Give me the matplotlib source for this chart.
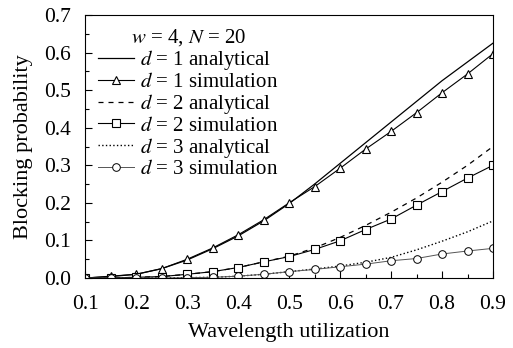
import matplotlib
matplotlib.use("Agg")
import matplotlib.pyplot as plt
import numpy as np
from matplotlib.ticker import MultipleLocator

plt.rcParams['font.family'] = ['Liberation Serif', 'DejaVu Serif']
plt.rcParams['mathtext.fontset'] = 'stix'

u = [0.1, 0.15, 0.2, 0.25, 0.3, 0.35, 0.4, 0.45, 0.5, 0.55, 0.6, 0.65, 0.7, 0.75, 0.8, 0.85, 0.9]

d1_ana = [0.0, 0.004, 0.01, 0.025, 0.048, 0.078, 0.112, 0.152, 0.198, 0.25, 0.305, 0.36, 0.415, 0.47, 0.525, 0.575, 0.625]
d1_sim = [0.0, 0.005, 0.01, 0.025, 0.05, 0.08, 0.115, 0.155, 0.2, 0.243, 0.292, 0.343, 0.39, 0.44, 0.493, 0.543, 0.597]
d2_ana = [0.0, 0.0, 0.002, 0.004, 0.01, 0.017, 0.028, 0.043, 0.058, 0.08, 0.108, 0.14, 0.175, 0.213, 0.255, 0.3, 0.35]
d2_sim = [0.0, 0.0, 0.002, 0.004, 0.01, 0.017, 0.028, 0.043, 0.057, 0.076, 0.099, 0.129, 0.157, 0.194, 0.23, 0.266, 0.3]
d3_ana = [0.0, 0.0, 0.0, 0.0, 0.001, 0.002, 0.005, 0.01, 0.017, 0.024, 0.032, 0.042, 0.055, 0.075, 0.098, 0.123, 0.152]
d3_sim = [0.0, 0.0, 0.0, 0.0, 0.001, 0.002, 0.005, 0.01, 0.017, 0.023, 0.03, 0.037, 0.046, 0.052, 0.064, 0.072, 0.079]

xticks = [0.1, 0.2, 0.3, 0.4, 0.5, 0.6, 0.7, 0.8, 0.9]
yticks = [0.0, 0.1, 0.2, 0.3, 0.4, 0.5, 0.6, 0.7]

fig = plt.figure(figsize=(5.13, 3.48), dpi=100)
ax = fig.add_axes([0.166, 0.201, 0.795, 0.756])

ax.plot(u, d1_ana, '-', color='black', lw=0.9, label=r'$d$ = 1 analytical')
ax.plot(u, d1_sim, '-^', color='black', lw=0.8, ms=6, mfc='white', mew=0.8, label=r'$d$ = 1 simulation')
ax.plot(u, d2_ana, '--', color='black', lw=0.9, dashes=(4, 4), label=r'$d$ = 2 analytical')
ax.plot(u, d2_sim, '-s', color='black', lw=0.8, ms=5.5, mfc='white', mew=0.8, label=r'$d$ = 2 simulation')
ax.plot(u, d3_ana, ':', color='black', lw=1.0, label=r'$d$ = 3 analytical')
ax.plot(u, d3_sim, '-o', color='#555555', lw=0.7, ms=5.5, mfc='white', mec='black', mew=0.7,
        label=r'$d$ = 3 simulation')

ax.set_xlim(0.1, 0.9)
ax.set_ylim(0.0, 0.7)
ax.set_xticks(xticks)
ax.set_xticklabels(['%.1f' % v for v in xticks])
ax.set_yticks(yticks)
ax.set_yticklabels(['%.1f' % v for v in yticks])
ax.xaxis.set_minor_locator(MultipleLocator(0.05))
ax.yaxis.set_minor_locator(MultipleLocator(0.05))
ax.tick_params(which='both', direction='in', labelsize=15.5, width=0.8)
ax.tick_params(which='major', length=5)
ax.tick_params(which='minor', length=3)
ax.tick_params(axis='x', which='major', pad=12)
ax.tick_params(axis='y', which='major', pad=10)
for s in ax.spines.values():
    s.set_linewidth(0.8)

ax.set_xlabel('Wavelength utilization', fontsize=16, labelpad=7)
ax.set_ylabel('Blocking probability', fontsize=16, labelpad=8)

leg = ax.legend(loc='upper left', fontsize=15, frameon=False, handlelength=1.75,
                handletextpad=0.3, labelspacing=0.0, borderaxespad=0.2,
                title=r'$w$ = 4, $N$ = 20', title_fontsize=15)

fig.savefig('out.png', dpi=100)
